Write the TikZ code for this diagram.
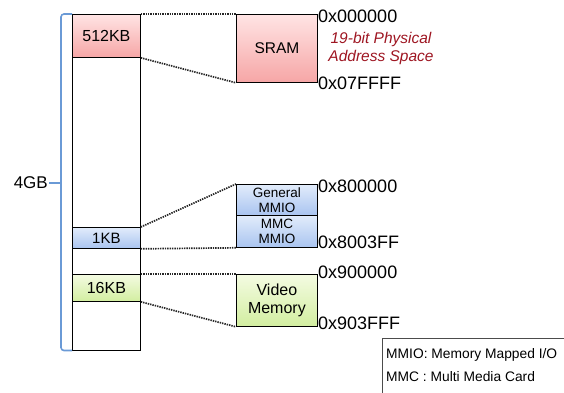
\documentclass[tikz,border=0pt]{standalone}
\usepackage{fontspec}
\setmainfont{Liberation Sans}
\usetikzlibrary{shadings}
\definecolor{bracecol}{HTML}{6A9AD6}
\definecolor{notecol}{HTML}{9E1622}
\definecolor{pinktop}{HTML}{FFE4E4}
\definecolor{pinkbot}{HTML}{F6A6A6}
\definecolor{bluetop}{HTML}{E2ECFB}
\definecolor{bluebot}{HTML}{A9C4F0}
\definecolor{greentop}{HTML}{F4FBE2}
\definecolor{greenbot}{HTML}{D2EEA0}
\tikzset{
  region/.style={draw=black, line width=0.8pt, anchor=north west, inner sep=0pt, align=center},
  pinkfill/.style={top color=pinktop, bottom color=pinkbot},
  bluefill/.style={top color=bluetop, bottom color=bluebot},
  greenfill/.style={top color=greentop, bottom color=greenbot},
  zoomline/.style={draw=black!85, line width=1.7pt, dash pattern=on 1.4pt off 1pt},
  addr/.style={anchor=west, inner sep=1pt, font=\fontsize{18}{20}\selectfont},
  bracket/.style={draw=bracecol, line width=1.6pt},
}
\begin{document}
\begin{tikzpicture}[x=1pt, y=-1pt]
\useasboundingbox (0,0) rectangle (564,392);
\clip (0,0) rectangle (564,392);

% the 4GB address space column
\node[region, fill=white, minimum width=68pt, minimum height=336pt] (col) at (72,14) {};
\node[region, pinkfill, minimum width=68pt, minimum height=43pt,
      font=\fontsize{16}{18}\selectfont] (kb512) at (72,14) {512KB};
\node[region, bluefill, minimum width=68pt, minimum height=21pt,
      font=\fontsize{15}{17}\selectfont] (kb1) at (72,227) {1KB};
\node[region, greenfill, minimum width=68pt, minimum height=27pt,
      font=\fontsize{16}{18}\selectfont] (kb16) at (72,274) {16KB};

% bracket and size label
\coordinate (bt) at (72,14);
\coordinate (bb) at (72,350.5);
\coordinate (bmid) at (61,183);
\coordinate (btip) at (49,183);
\node[anchor=east, inner sep=1pt, font=\fontsize{17}{19}\selectfont] (gb) at (btip) {4GB};
\draw[bracket, rounded corners=3pt] (bt) -- (61,14) -- (61,350.5) -- (bb);
\draw[bracket] (bmid) -- (btip);

% zoomed-in regions
\node[region, pinkfill, minimum width=81pt, minimum height=68pt,
      font=\fontsize{15.5}{17}\selectfont] (sram) at (236,14) {SRAM};
\node[region, bluefill, minimum width=81pt, minimum height=31pt,
      font=\fontsize{13.5}{15}\selectfont] (gen) at (236,184) {General\\MMIO};
\node[region, bluefill, minimum width=81pt, minimum height=32pt,
      font=\fontsize{13.5}{15}\selectfont] (mmc) at (236,215) {MMC\\MMIO};
\node[region, greenfill, minimum width=81pt, minimum height=52pt,
      font=\fontsize{16}{18}\selectfont] (video) at (236,274) {Video\\Memory};

% dotted zoom lines
\draw[zoomline] (kb512.north east) -- (sram.north west);
\draw[zoomline] (kb512.south east) -- (sram.south west);
\draw[zoomline] (kb1.north east) -- (gen.north west);
\draw[zoomline] (kb1.south east) -- (mmc.south west);
\draw[zoomline] (kb16.north east) -- (video.north west);
\draw[zoomline] (kb16.south east) -- (video.south west);

% physical addresses
\node[addr] (a1) at (317,16) {0x000000};
\node[addr] (a2) at (317,83) {0x07FFFF};
\node[addr] (a3) at (317,186) {0x800000};
\node[addr] (a4) at (317,242) {0x8003FF};
\node[addr] (a5) at (317,272) {0x900000};
\node[addr] (a6) at (317,323) {0x903FFF};

\node[text=notecol, align=center, inner sep=0pt,
      font=\fontsize{15.5}{18}\selectfont\itshape] (note) at (381,48) {19-bit Physical\\Address Space};

% legend
\draw[black!70, line width=0.8pt] (570,338) -- (382.5,338) -- (382.5,400);
\node[anchor=north west, align=left, inner sep=0pt,
      font=\fontsize{13.8}{23}\selectfont] (legend) at (386,348)
  {MMIO: Memory Mapped I/O\\MMC : Multi Media Card};
\end{tikzpicture}
\end{document}
